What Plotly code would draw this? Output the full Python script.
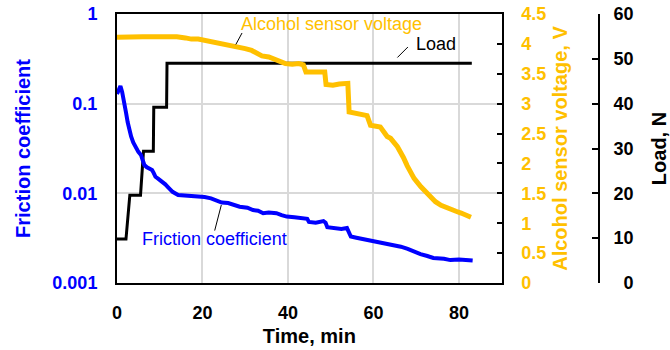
import math
import plotly.graph_objects as go

# ---------------- data ----------------
time_friction = [0.0, 0.4, 0.8, 1.2, 1.7, 2.1, 2.5, 2.9, 3.3, 3.8, 4.5, 5.0, 5.6, 6.0, 6.4,
                 7.0, 7.6, 8.2, 8.6, 9.0, 9.6, 10.3, 10.8, 11.3, 11.8, 12.3, 13.0, 14.3,
                 15.5, 17.0, 19.0, 20.5, 22.0, 23.0, 24.5, 26.0, 27.5, 28.7, 30.5, 31.8,
                 33.0, 34.2, 35.5, 37.3, 38.5, 39.7, 41.5, 43.6, 44.5, 44.9, 46.5, 48.3,
                 48.8, 49.2, 51.0, 52.5, 53.8, 54.3, 54.7, 56.0, 57.5, 58.5, 60.0, 61.6,
                 63.5, 65.0, 66.4, 68.0, 69.5, 71.0, 72.6, 74.0, 76.5, 78.0, 80.0, 81.5, 83.2]
friction = [0.128, 0.145, 0.157, 0.135, 0.105, 0.080, 0.062, 0.050, 0.043, 0.037, 0.0318,
            0.029, 0.0268, 0.023, 0.0207, 0.0195, 0.0188, 0.0182, 0.0168, 0.0153, 0.0146,
            0.0137, 0.0135, 0.0126, 0.0119, 0.0113, 0.0104, 0.0096, 0.0095, 0.0096,
            0.0092, 0.0091, 0.0088, 0.0085, 0.0079, 0.0078, 0.0074, 0.0071, 0.0069,
            0.0065, 0.0064, 0.0060, 0.0061, 0.0060, 0.0057, 0.0055, 0.0054, 0.0052,
            0.0052, 0.0048, 0.0047, 0.0049, 0.0047, 0.0042, 0.0041, 0.0040, 0.0041,
            0.0037, 0.0033, 0.0032, 0.0031, 0.0030, 0.0029, 0.00277, 0.0027, 0.0026,
            0.00254, 0.0024, 0.00224, 0.0021, 0.0020, 0.0019, 0.00186, 0.0018, 0.00183,
            0.0018, 0.00178]

time_voltage = [0.0, 2.0, 4.0, 6.0, 8.0, 10.0, 12.7, 14.0, 16.0, 17.4, 19.0, 20.5, 22.1,
                24.0, 25.6, 27.0, 28.5, 30.0, 31.5, 33.0, 33.9, 35.5, 37.0, 38.5, 39.4,
                41.0, 42.5, 43.6, 44.2, 46.0, 47.5, 48.6, 48.9, 50.5, 52.0, 54.0, 54.3,
                56.0, 57.5, 58.5, 59.3, 61.6, 63.2, 64.0, 65.6, 66.4, 67.0, 67.9, 69.5,
                71.1, 72.2, 73.4, 74.5, 75.8, 77.0, 78.1, 79.3, 80.5, 81.7, 82.8]
voltage = [4.11, 4.12, 4.11, 4.12, 4.12, 4.12, 4.13, 4.12, 4.10, 4.08, 4.08, 4.06, 4.04,
           4.01, 3.98, 3.97, 3.94, 3.92, 3.89, 3.84, 3.80, 3.78, 3.73, 3.70, 3.67, 3.66,
           3.67, 3.65, 3.53, 3.53, 3.52, 3.53, 3.32, 3.31, 3.33, 3.34, 2.86, 2.83, 2.82,
           2.80, 2.64, 2.61, 2.45, 2.42, 2.28, 2.15, 2.10, 1.96, 1.75, 1.61, 1.52, 1.42,
           1.36, 1.30, 1.26, 1.23, 1.20, 1.17, 1.13, 1.10]

time_load = [0.0, 2.1, 3.0, 5.5, 6.2, 8.5, 8.6, 11.6, 11.7, 83.0]
load = [9.8, 9.8, 19.6, 19.6, 29.4, 29.4, 39.2, 39.2, 49.0, 49.0]

time_ticks = [0, 20, 40, 60, 80]
friction_ticks = [0.001, 0.01, 0.1, 1]
friction_ticktext = ["0.001", "0.01", "0.1", "1"]
voltage_ticks = [0, 0.5, 1, 1.5, 2, 2.5, 3, 3.5, 4, 4.5]
voltage_ticktext = ["0", "0.5", "1", "1.5", "2", "2.5", "3", "3.5", "4", "4.5"]
load_ticks = [0, 10, 20, 30, 40, 50, 60]
load_ticktext = ["\u20070", "10", "20", "30", "40", "50", "60"]

# ---------------- style ----------------
BLUE = "#0000FF"
ORANGE = "#FFC000"
BLACK = "#000000"
GRID = "#D9D9D9"
FONT = "Liberation Sans"
TICK_SIZE = 18
TITLE_SIZE = 20
NOTE_SIZE = 18

fig = go.Figure()
fig.add_trace(go.Scatter(x=time_load, y=load, yaxis="y", mode="lines",
                         line=dict(color=BLACK, width=3), name="Load"))
fig.add_trace(go.Scatter(x=time_friction, y=friction, yaxis="y2", mode="lines",
                         line=dict(color=BLUE, width=4), name="Friction coefficient"))
fig.add_trace(go.Scatter(x=time_voltage, y=voltage, yaxis="y3", mode="lines",
                         line=dict(color=ORANGE, width=5), name="Alcohol sensor voltage"))

x_dom_end = 0.6957
fig.update_layout(
    width=670, height=350,
    margin=dict(l=117, r=0, t=14, b=67, pad=0),
    paper_bgcolor="white", plot_bgcolor="white",
    showlegend=False,
    font=dict(family=FONT, color=BLACK),
    xaxis=dict(
        domain=[0, x_dom_end], range=[0, 90], anchor="y",
        tickvals=time_ticks, showgrid=True, gridcolor=GRID, gridwidth=1.5,
        showline=True, linecolor=BLACK, linewidth=2, mirror=True,
        ticks="", zeroline=False, ticklabelstandoff=12,
        tickfont=dict(size=TICK_SIZE, weight="bold", color=BLACK),
        title=dict(text="Time, min", font=dict(size=TITLE_SIZE, weight="bold", color=BLACK),
                   standoff=7),
        automargin=False,
    ),
    yaxis=dict(
        anchor="free", position=0.8716, side="right", range=[0, 60],
        tickvals=load_ticks, ticktext=load_ticktext,
        showline=True, linecolor=BLACK, linewidth=2, ticks="inside", ticklen=6,
        tickwidth=2, tickcolor=BLACK, showgrid=False, zeroline=False,
        ticklabelstandoff=10,
        tickfont=dict(size=TICK_SIZE, weight="bold", color=BLACK),
        title=dict(text="Load, N", font=dict(size=TITLE_SIZE, weight="bold", color=BLACK),
                   standoff=18),
        automargin=False,
    ),
    yaxis2=dict(
        type="log", range=[-3, 0], side="left", anchor="x", overlaying="y",
        tickvals=friction_ticks, ticktext=friction_ticktext,
        showgrid=True, gridcolor=GRID, gridwidth=1.5,
        showline=True, linecolor=BLACK, linewidth=2, ticks="", zeroline=False,
        ticklabelstandoff=14,
        tickfont=dict(size=TICK_SIZE, weight="bold", color=BLUE),
        title=dict(text="Friction coefficient", font=dict(size=TITLE_SIZE, weight="bold", color=BLUE),
                   standoff=16),
        automargin=False,
    ),
    yaxis3=dict(
        range=[0, 4.5], side="right", anchor="x", overlaying="y",
        tickvals=voltage_ticks, ticktext=voltage_ticktext,
        showline=True, linecolor=BLACK, linewidth=2, ticks="inside", ticklen=5,
        tickwidth=2, tickcolor=BLACK, showgrid=False, zeroline=False,
        ticklabelstandoff=14,
        tickfont=dict(size=TICK_SIZE, weight="bold", color=ORANGE),
        title=dict(text="Alcohol sensor voltage, V", font=dict(size=TITLE_SIZE, weight="bold", color=ORANGE),
                   standoff=8),
        automargin=False,
    ),
)

# ---------------- labels with leader lines ----------------
notes = []
notes.append(dict(x=28.5, y=4.33, xref="x", yref="y3", text="Alcohol sensor voltage",
                  showarrow=False, xanchor="left", yanchor="middle",
                  font=dict(size=NOTE_SIZE, color=ORANGE, family=FONT)))
notes.append(dict(x=27.8, y=3.99, xref="x", yref="y3", text="", showarrow=True,
                  arrowhead=0, arrowwidth=1, arrowcolor=BLACK, ax=7, ay=-13, standoff=0))
notes.append(dict(x=69.4, y=53.3, xref="x", yref="y", text="Load",
                  showarrow=False, xanchor="left", yanchor="middle",
                  font=dict(size=NOTE_SIZE, color=BLACK, family=FONT)))
notes.append(dict(x=65.6, y=50.3, xref="x", yref="y", text="", showarrow=True,
                  arrowhead=0, arrowwidth=1, arrowcolor=BLACK, ax=12, ay=-12, standoff=0))
notes.append(dict(x=5.3, y=math.log10(0.00312), xref="x", yref="y2", text="Friction coefficient",
                  showarrow=False, xanchor="left", yanchor="middle",
                  font=dict(size=NOTE_SIZE, color=BLUE, family=FONT)))
notes.append(dict(x=24.4, y=math.log10(0.0074), xref="x", yref="y2", text="", showarrow=True,
                  arrowhead=0, arrowwidth=1, arrowcolor=BLACK, ax=-7, ay=27, standoff=0))
fig.update_layout(annotations=notes)

fig.write_html("out.html", config={"displayModeBar": False},
               post_script="document.body.style.margin='0px';document.body.style.overflow='hidden';")
